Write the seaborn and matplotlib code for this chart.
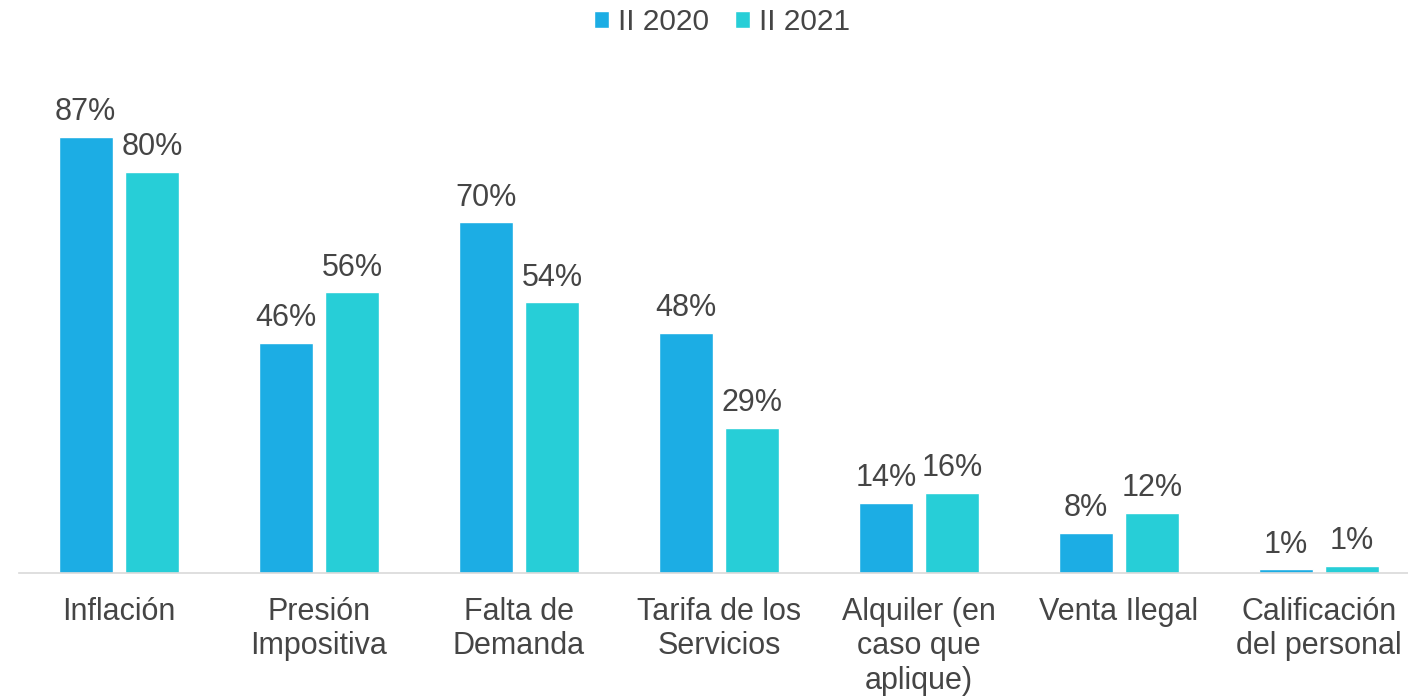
import matplotlib.pyplot as plt
import pandas as pd
import seaborn as sns

categories = [
    "Inflación",
    "Presión\nImpositiva",
    "Falta de\nDemanda",
    "Tarifa de los\nServicios",
    "Alquiler (en\ncaso que\naplique)",
    "Venta Ilegal",
    "Calificación\ndel personal",
]
series_names = ["II 2020", "II 2021"]
values_2020 = [87, 46, 70, 48, 14, 8, 0.7]
values_2021 = [80, 56, 54, 29, 16, 12, 1.4]
colors = ["#1CADE4", "#27CED7"]
text_color = "#454545"

df = pd.DataFrame({
    "categoria": categories * 2,
    "serie": [series_names[0]] * len(categories) + [series_names[1]] * len(categories),
    "valor": values_2020 + values_2021,
})

sns.set_style("white")
plt.rcParams["font.family"] = ["Liberation Sans", "DejaVu Sans"]

fig = plt.figure(figsize=(14.08, 6.96), dpi=100)
ax = fig.add_axes([19 / 1408, 123 / 696, 1389 / 1408, 501 / 696])

sns.barplot(
    data=df, x="categoria", y="valor", hue="serie",
    palette=colors, width=0.665, gap=0.19, ax=ax,
    saturation=1, legend=True,
)

for container in ax.containers:
    ax.bar_label(container, fmt="%.0f%%", padding=7, fontsize=22, color=text_color)

ax.set_xlim(-0.5, -0.5 + 1389 / 200)
ax.set_ylim(0, 100)
ax.set_xlabel("")
ax.set_ylabel("")
ax.set_yticks([])
for side in ["top", "right", "left"]:
    ax.spines[side].set_visible(False)
ax.spines["bottom"].set_color("#D9D9D9")
ax.spines["bottom"].set_linewidth(1.2)
ax.tick_params(axis="x", length=0, pad=17, labelsize=22, labelcolor=text_color)
for lbl in ax.get_xticklabels():
    lbl.set_linespacing(1.2)
    lbl.set_verticalalignment("top")

handles, labels = ax.get_legend_handles_labels()
ax.legend(
    handles, labels, loc="center", bbox_to_anchor=(722 / 1408, 1 - 22 / 696),
    bbox_transform=fig.transFigure, ncol=2, frameon=False, fontsize=21.5,
    labelcolor=text_color, handlelength=0.5, handleheight=0.5,
    handletextpad=0.3, columnspacing=0.9,
)

fig.savefig("out.png", dpi=100)
